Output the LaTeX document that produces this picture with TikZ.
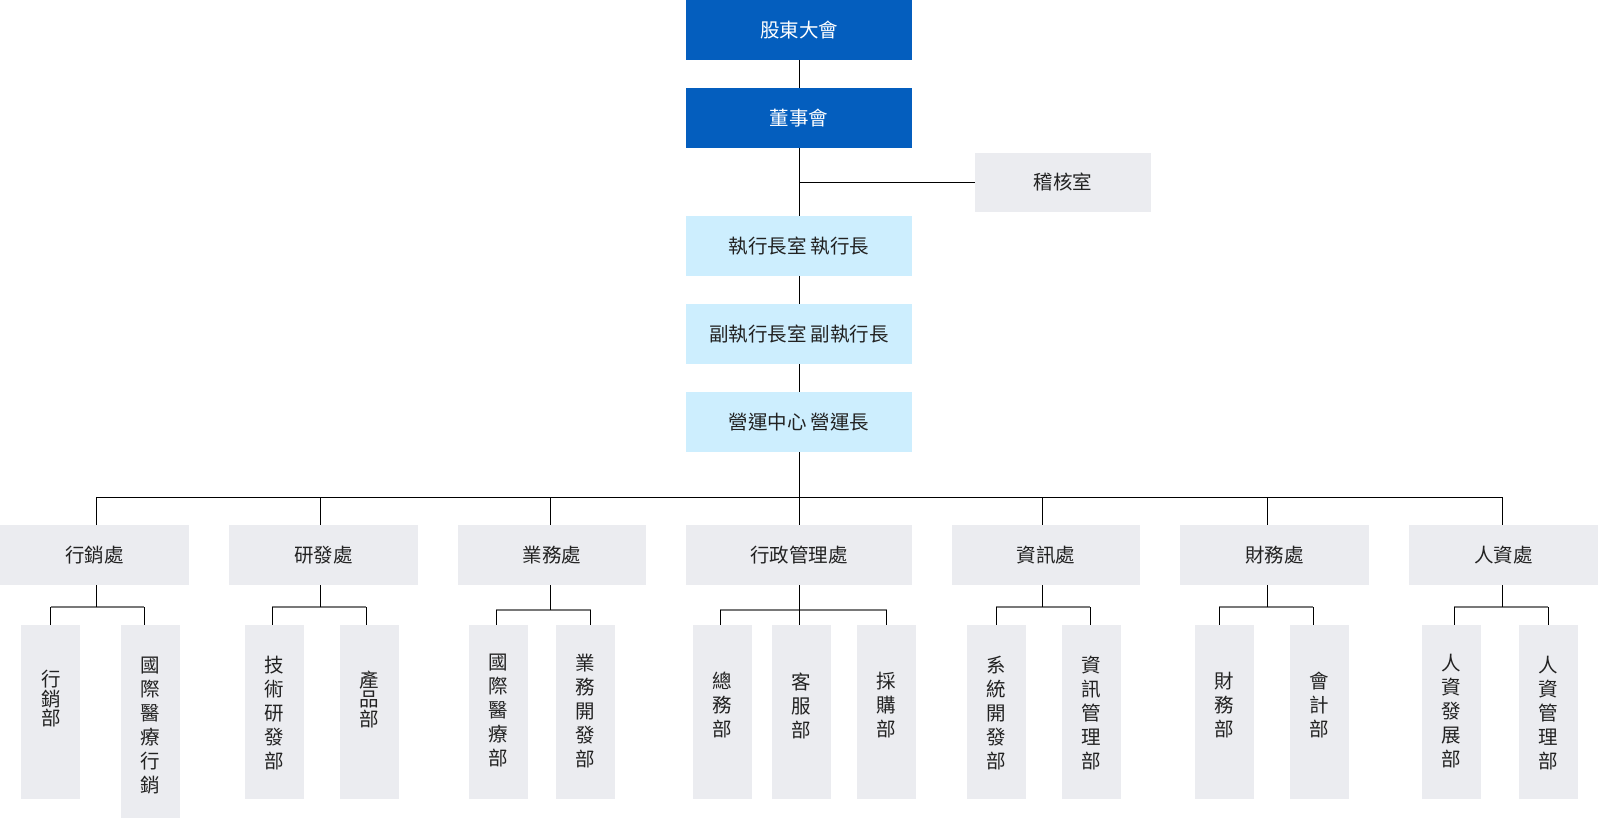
\documentclass[tikz,border=0pt]{standalone}
\usepackage{fontspec}
\setmainfont{Noto Sans CJK TC}
\definecolor{dblue}{HTML}{045EBE}
\definecolor{lblue}{HTML}{CDEEFE}
\definecolor{lgray}{HTML}{EBECF0}
\definecolor{txt}{HTML}{222222}
\definecolor{busgray}{HTML}{787878}
\begin{document}
\begin{tikzpicture}[x=1pt,y=-1pt,
  basebox/.style={rectangle,inner sep=0pt,outer sep=0pt,minimum height=60pt,
    font=\fontsize{19.5}{24}\selectfont,text=txt},
  topbox/.style={basebox,fill=dblue,text=white,minimum width=226pt},
  ceobox/.style={basebox,fill=lblue,minimum width=226pt},
  grbox/.style={basebox,fill=lgray},
  subbox/.style={rectangle,inner sep=0pt,outer sep=0pt,fill=lgray,minimum width=59pt,minimum height=173.7pt},
  vtext/.style={inner sep=0pt,align=center,text=txt,font=\fontsize{19.5}{24}\selectfont},
  vtight/.style={inner sep=0pt,align=center,text=txt,font=\fontsize{19.5}{19.5}\selectfont},
  conn/.style={draw=black,line width=1pt},
  gbus/.style={draw=busgray,line width=2pt}]
\useasboundingbox (0,0) rectangle (1598,818);

% top chain
\node[topbox] (gm) at (799,30) {股東大會};
\node[topbox] (bod) at (799,118) {董事會};
\node[grbox,minimum width=176pt,minimum height=58.5pt] (audit) at (1063,182.5) {稽核室};
\node[ceobox] (ceo) at (799,246) {執行長室 執行長};
\node[ceobox] (vice) at (799,334) {副執行長室 副執行長};
\node[ceobox] (ops) at (799,422) {營運中心 營運長};

\draw[conn] (gm.south) -- (bod.north);
\draw[conn] (bod.south) -- (ceo.north);
\draw[conn] (bod.south |- audit.west) -- (audit.west);
\draw[conn] (ceo.south) -- (vice.north);
\draw[conn] (vice.south) -- (ops.north);

% level 2
\node[grbox,minimum width=189pt] (l1) at (94.5,555) {行銷處};
\node[grbox,minimum width=189pt] (l2) at (323.5,555) {研發處};
\node[grbox,minimum width=188pt] (l3) at (552,555) {業務處};
\node[grbox,minimum width=226pt] (l4) at (799,555) {行政管理處};
\node[grbox,minimum width=188pt] (l5) at (1046,555) {資訊處};
\node[grbox,minimum width=189pt] (l6) at (1274.5,555) {財務處};
\node[grbox,minimum width=189pt] (l7) at (1503.5,555) {人資處};

\coordinate (b1) at (96,497);
\coordinate (b2) at (320.3,497);
\coordinate (b3) at (550.3,497);
\coordinate (b5) at (1042,497);
\coordinate (b6) at (1267,497);
\coordinate (b7) at (1502.3,497);

\draw[conn] (ops.south) -- (l4.north);
\draw[conn] (l1.north -| b1) -- (b1) -- (b7) -- (l7.north -| b7);
\foreach \k in {2,3,5,6} {\draw[conn] (b\k) -- (b\k |- l\k.north);}

% level 3 boxes
\node[subbox] (s11) at (50.5,711.85) {};
\node[subbox,minimum height=193pt] (s12) at (150.5,721.5) {};
\node[subbox] (s21) at (274.5,711.85) {};
\node[subbox] (s22) at (369.5,711.85) {};
\node[subbox] (s31) at (498.5,711.85) {};
\node[subbox] (s32) at (585.5,711.85) {};
\node[subbox] (s41) at (722.5,711.85) {};
\node[subbox] (s42) at (801.5,711.85) {};
\node[subbox] (s43) at (886.5,711.85) {};
\node[subbox] (s51) at (996.5,711.85) {};
\node[subbox] (s52) at (1091,711.85) {};
\node[subbox] (s61) at (1224,711.85) {};
\node[subbox] (s62) at (1319.5,711.85) {};
\node[subbox] (s71) at (1451.5,711.85) {};
\node[subbox] (s72) at (1548.5,711.85) {};

% level 3 texts
\node[vtight] at (50.8,699) {行\\銷\\部};
\node[vtext] at (150.5,725.5) {國\\際\\醫\\療\\行\\銷};
\node[vtext] at (274.5,713.5) {技\\術\\研\\發\\部};
\node[vtight] at (369.5,699) {產\\品\\部};
\node[vtext] at (498.5,711) {國\\際\\醫\\療\\部};
\node[vtext] at (585.5,711) {業\\務\\開\\發\\部};
\node[vtext] at (722.5,705.5) {總\\務\\部};
\node[vtext] at (801.5,705.5) {客\\服\\部};
\node[vtext] at (886.5,705.5) {採\\購\\部};
\node[vtext] at (996.5,713.5) {系\\統\\開\\發\\部};
\node[vtext] at (1091,713.5) {資\\訊\\管\\理\\部};
\node[vtext] at (1224,705.5) {財\\務\\部};
\node[vtext] at (1319.5,705.5) {會\\計\\部};
\node[vtext] at (1451.5,711.5) {人\\資\\發\\展\\部};
\node[vtext] at (1548.5,713.5) {人\\資\\管\\理\\部};

% level 3 connectors
% group 1
\coordinate (d11) at (50.7,607); \coordinate (d12) at (144.3,607);
\draw[gbus] (d11) -- (d12);
\draw[conn] (l1.south -| b1) -- (b1 |- d11);
\draw[conn] (d11) -- (d11 |- s11.north);
\draw[conn] (d12) -- (d12 |- s12.north);
% group 2
\coordinate (d21) at (272.3,607); \coordinate (d22) at (366.3,607);
\draw[gbus] (d21) -- (d22);
\draw[conn] (l2.south -| b2) -- (b2 |- d21);
\draw[conn] (d21) -- (d21 |- s21.north);
\draw[conn] (d22) -- (d22 |- s22.north);
% group 3
\coordinate (d31) at (496.3,610); \coordinate (d32) at (590.7,610);
\draw[gbus] (d31) -- (d32);
\draw[conn] (l3.south -| b3) -- (b3 |- d31);
\draw[conn] (d31) -- (d31 |- s31.north);
\draw[conn] (d32) -- (d32 |- s32.north);
% group 4
\coordinate (d41) at (720,610); \coordinate (d43) at (886.7,610);
\draw[gbus] (d41) -- (d43);
\draw[conn] (l4.south) -- (l4.south |- s42.north);
\draw[conn] (d41) -- (d41 |- s41.north);
\draw[conn] (d43) -- (d43 |- s43.north);
% group 5
\coordinate (d51) at (996,607); \coordinate (d52) at (1090,607);
\draw[gbus] (d51) -- (d52);
\draw[conn] (l5.south -| b5) -- (b5 |- d51);
\draw[conn] (d51) -- (d51 |- s51.north);
\draw[conn] (d52) -- (d52 |- s52.north);
% group 6
\coordinate (d61) at (1219,607); \coordinate (d62) at (1313,607);
\draw[gbus] (d61) -- (d62);
\draw[conn] (l6.south -| b6) -- (b6 |- d61);
\draw[conn] (d61) -- (d61 |- s61.north);
\draw[conn] (d62) -- (d62 |- s62.north);
% group 7
\coordinate (d71) at (1454.3,607); \coordinate (d72) at (1548.3,607);
\draw[gbus] (d71) -- (d72);
\draw[conn] (l7.south -| b7) -- (b7 |- d71);
\draw[conn] (d71) -- (d71 |- s71.north);
\draw[conn] (d72) -- (d72 |- s72.north);
\end{tikzpicture}
\end{document}
